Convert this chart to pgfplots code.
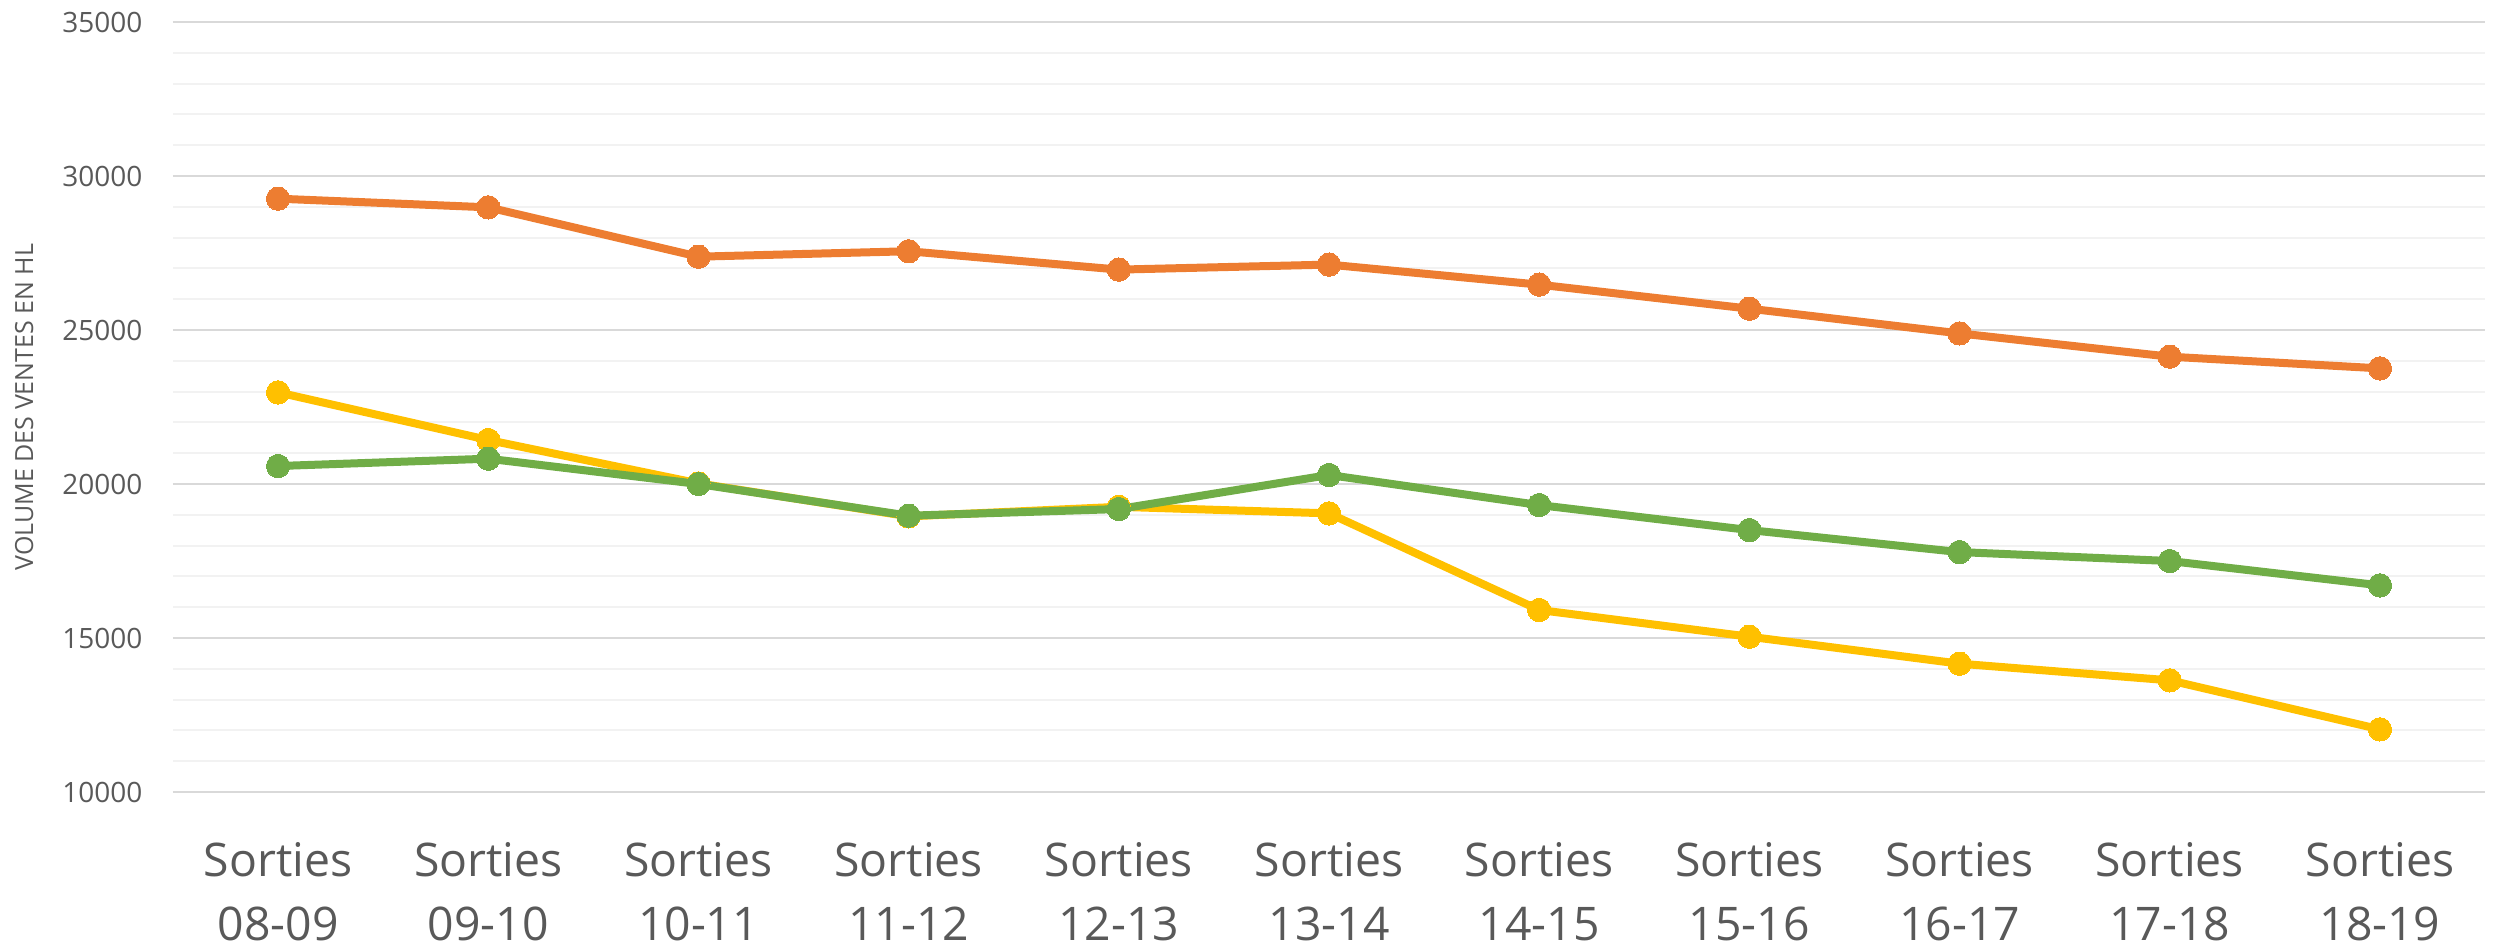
\documentclass[border=0pt]{standalone}
\usepackage{pgfplots}
\pgfplotsset{compat=1.18}
\usepackage{fontspec}
\setmainfont{Open Sans}
\definecolor{cOr}{HTML}{ED7D31}
\definecolor{cGr}{HTML}{70AD47}
\definecolor{cYe}{HTML}{FFC000}
\definecolor{cTx}{HTML}{595959}
\definecolor{cMaj}{HTML}{D9D9D9}
\definecolor{cMin}{HTML}{F2F2F2}
\begin{document}
\begin{tikzpicture}
\useasboundingbox (-51.9pt,-47.1pt) rectangle (699pt,237.6pt);
\begin{axis}[
  at={(0,0)}, anchor=south west,
  scale only axis,
  width=693.6pt, height=231pt,
  xmin=-0.5, xmax=10.5,
  ymin=10000, ymax=35000,
  ytick={10000,15000,20000,25000,30000,35000},
  minor ytick={11000,12000,13000,14000,16000,17000,18000,19000,21000,22000,23000,24000,26000,27000,28000,29000,31000,32000,33000,34000},
  xtick={0,...,10},
  xticklabels={{Sorties\\08-09},{Sorties\\09-10},{Sorties\\10-11},{Sorties\\11-12},{Sorties\\12-13},{Sorties\\13-14},{Sorties\\14-15},{Sorties\\15-16},{Sorties\\16-17},{Sorties\\17-18},{Sorties\\18-19}},
  xticklabel style={align=center, anchor=north, inner sep=0pt, yshift=-15pt, text=cTx, font=\fontsize{13.9}{19}\selectfont},
  yticklabel style={anchor=east, inner sep=0pt, xshift=-9pt, text=cTx, font=\fontsize{8.4}{10}\selectfont},
  scaled y ticks=false,
  yticklabel={\pgfmathprintnumber[fixed,precision=0,set thousands separator={}]{\tick}},
  /pgf/number format/assume math mode=true,
  ymajorgrids, yminorgrids,
  major grid style={cMaj, line width=0.6pt},
  minor grid style={cMin, line width=0.6pt},
  axis line style={draw=none},
  major tick length=0pt, minor tick length=0pt,
  tick style={draw=none},
  ylabel={VOLUME DES VENTES EN HL},
  ylabel style={at={(axis description cs:-0.0644,0.5)}, anchor=center, text=cTx, font=\fontsize{7.5}{9}\selectfont},
  clip=false,
]
\addplot[cOr, line width=2.4pt, mark=*, mark size=3.5pt, mark options={fill=cOr, draw=cOr, line width=0pt}] coordinates {
(0,29264) (1,28983) (2,27381) (3,27557) (4,26961) (5,27124) (6,26473) (7,25693) (8,24890) (9,24134) (10,23755)};
\addplot[cYe, line width=2.4pt, mark=*, mark size=3.5pt, mark options={fill=cYe, draw=cYe, line width=0pt}] coordinates {
(0,22976) (1,21429) (2,20020) (3,18950) (4,19260) (5,19047) (6,15910) (7,15043) (8,14167) (9,13626) (10,12035)};
\addplot[cGr, line width=2.4pt, mark=*, mark size=3.5pt, mark options={fill=cGr, draw=cGr, line width=0pt}] coordinates {
(0,20584) (1,20822) (2,20000) (3,18971) (4,19187) (5,20293) (6,19317) (7,18505) (8,17790) (9,17500) (10,16710)};
\end{axis}
\end{tikzpicture}
\end{document}
